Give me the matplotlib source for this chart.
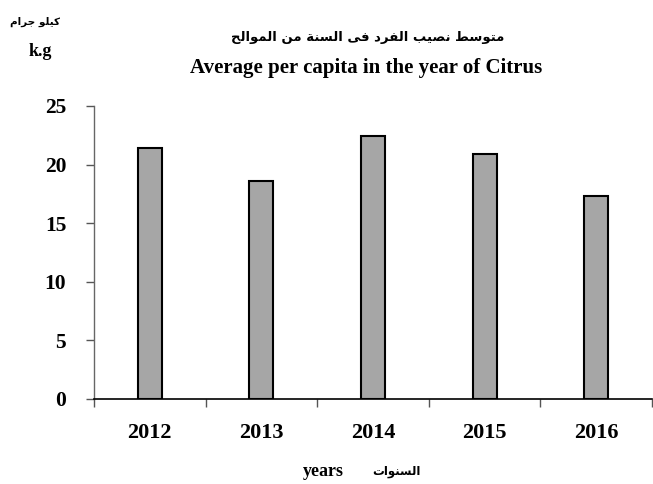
import matplotlib
matplotlib.use("Agg")
import matplotlib.pyplot as plt
from matplotlib.ticker import FixedLocator, NullFormatter

years = ["2012", "2013", "2014", "2015", "2016"]
values = [21.4, 18.6, 22.4, 20.9, 17.3]
yticks = [0, 5, 10, 15, 20, 25]

title_ar = "متوسط نصيب الفرد فى السنة من الموالح"
title_en = "Average per capita in the year of Citrus"
unit_ar = "كيلو جرام"
unit_en = "k.g"
xlabel_ar = "السنوات"
xlabel_en = "years"

# Minimal Arabic shaping (presentation forms) + visual reordering
FORMS = {
    'ا': (0xFE8D, 0xFE8E, None, None),
    'ب': (0xFE8F, 0xFE90, 0xFE91, 0xFE92),
    'ة': (0xFE93, 0xFE94, None, None),
    'ت': (0xFE95, 0xFE96, 0xFE97, 0xFE98),
    'ج': (0xFE9D, 0xFE9E, 0xFE9F, 0xFEA0),
    'ح': (0xFEA1, 0xFEA2, 0xFEA3, 0xFEA4),
    'د': (0xFEA9, 0xFEAA, None, None),
    'ر': (0xFEAD, 0xFEAE, None, None),
    'س': (0xFEB1, 0xFEB2, 0xFEB3, 0xFEB4),
    'ص': (0xFEB9, 0xFEBA, 0xFEBB, 0xFEBC),
    'ط': (0xFEC1, 0xFEC2, 0xFEC3, 0xFEC4),
    'ف': (0xFED1, 0xFED2, 0xFED3, 0xFED4),
    'ك': (0xFED9, 0xFEDA, 0xFEDB, 0xFEDC),
    'ل': (0xFEDD, 0xFEDE, 0xFEDF, 0xFEE0),
    'م': (0xFEE1, 0xFEE2, 0xFEE3, 0xFEE4),
    'ن': (0xFEE5, 0xFEE6, 0xFEE7, 0xFEE8),
    'و': (0xFEED, 0xFEEE, None, None),
    'ى': (0xFEEF, 0xFEF0, None, None),
    'ي': (0xFEF1, 0xFEF2, 0xFEF3, 0xFEF4),
}


def shape(text):
    out = []
    n = len(text)
    for i, ch in enumerate(text):
        if ch not in FORMS:
            out.append(ch)
            continue
        f = FORMS[ch]
        prev = text[i - 1] if i > 0 else None
        nxt = text[i + 1] if i < n - 1 else None
        join_prev = prev in FORMS and FORMS[prev][2] is not None
        join_next = nxt in FORMS and f[2] is not None
        if join_prev and join_next:
            code = f[3]
        elif join_prev:
            code = f[1]
        elif join_next:
            code = f[2]
        else:
            code = f[0]
        out.append(chr(code))
    return "".join(out)[::-1]


SERIF = ["Liberation Serif", "DejaVu Serif"]
ARAB = ["DejaVu Sans"]

fig = plt.figure(figsize=(6.53, 4.84), dpi=100)
ax = fig.add_axes([94 / 653, 1 - 399 / 484, (652 - 94) / 653, (399 - 106) / 484])

x = list(range(len(years)))
ax.bar(x, values, width=0.215, color="#a6a6a6", edgecolor="black", linewidth=1.5, zorder=3)

ax.set_xlim(-0.5, len(years) - 0.5)
ax.set_ylim(0, 25)
ax.set_yticks(yticks)
ax.set_yticklabels([str(t) for t in yticks], fontfamily=SERIF, fontweight="bold", fontsize=15.5)
ax.set_xticks(x)
ax.set_xticklabels(years, fontfamily=SERIF, fontweight="bold", fontsize=16)
ax.tick_params(axis="x", which="major", length=0, pad=17)
ax.xaxis.set_minor_locator(FixedLocator([i - 0.5 for i in range(len(years) + 1)]))
ax.xaxis.set_minor_formatter(NullFormatter())
ax.tick_params(axis="x", which="minor", length=6, width=1, color="#555555", direction="out")
ax.tick_params(axis="y", length=6, width=1, color="#555555", direction="out", pad=14)

for s in ["top", "right"]:
    ax.spines[s].set_visible(False)
ax.spines["left"].set_color("#666666")
ax.spines["left"].set_linewidth(1)
ax.spines["bottom"].set_color("black")
ax.spines["bottom"].set_linewidth(1.2)

fig.text(368 / 653, 1 - 38 / 484, shape(title_ar), ha="center", va="center",
         fontfamily=ARAB, fontweight="bold", fontsize=9.5)
fig.text(366 / 653, 1 - 68 / 484, title_en, ha="center", va="center",
         fontfamily=SERIF, fontweight="bold", fontsize=15)
fig.text(35 / 653, 1 - 22 / 484, shape(unit_ar), ha="center", va="center",
         fontfamily=ARAB, fontweight="bold", fontsize=7.5)
fig.text(40 / 653, 1 - 52 / 484, unit_en, ha="center", va="center",
         fontfamily=SERIF, fontweight="bold", fontsize=13)
fig.text(396 / 653, 1 - 472 / 484, shape(xlabel_ar), ha="center", va="center",
         fontfamily=ARAB, fontweight="bold", fontsize=8.5)
fig.text(323 / 653, 1 - 471 / 484, xlabel_en, ha="center", va="center",
         fontfamily=SERIF, fontweight="bold", fontsize=13)

fig.savefig("out.png", dpi=100)
